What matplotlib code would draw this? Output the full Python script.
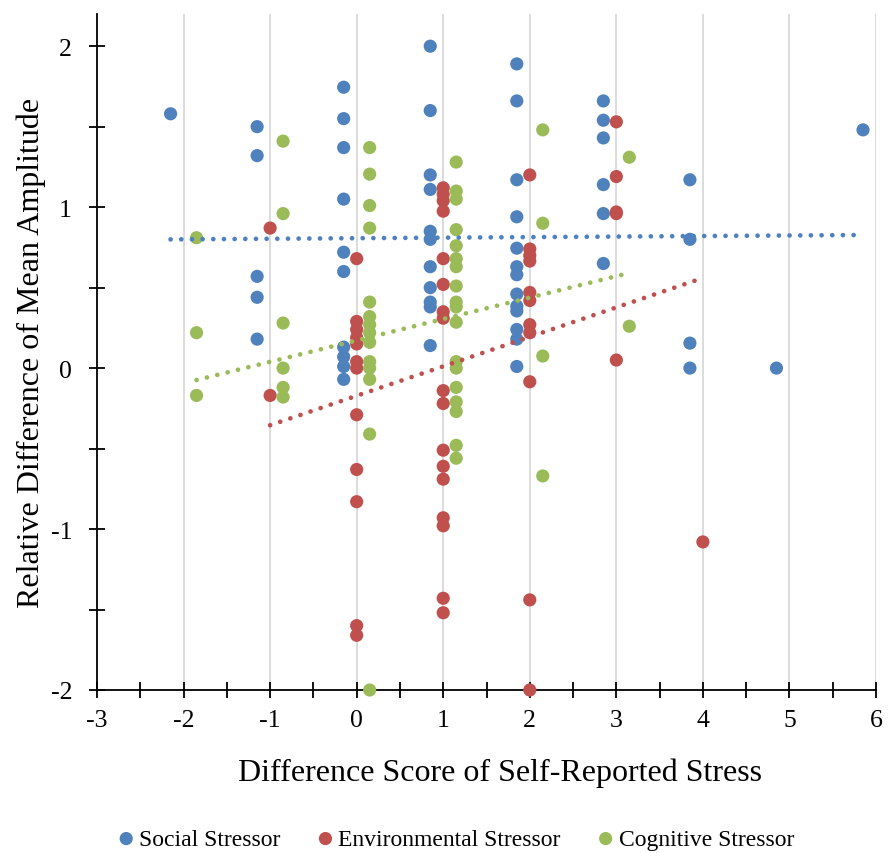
import numpy as np
import matplotlib
matplotlib.use("Agg")
import matplotlib.pyplot as plt

# difference score of self-reported stress -> relative difference values
social = {
    -2: [1.58],
    -1: [1.50, 1.32, 0.57, 0.44, 0.18],
    0: [1.745, 1.55, 1.37, 1.05, 0.72, 0.60, 0.13, 0.07, 0.01, -0.07],
    1: [2.0, 1.60, 1.20, 1.11, 0.85, 0.80, 0.63, 0.50, 0.41, 0.38, 0.14],
    2: [1.89, 1.66, 1.17, 0.94, 0.745, 0.63, 0.58, 0.46, 0.385, 0.355, 0.24, 0.18, 0.01],
    3: [1.66, 1.54, 1.43, 1.14, 0.96, 0.65],
    4: [1.17, 0.80, 0.155, 0.0],
    5: [0.0],
    6: [1.48],
}
environmental = {
    -1: [0.87, -0.17],
    0: [0.68, 0.29, 0.24, 0.19, 0.15, 0.04, 0.0, -0.29, -0.63, -0.83, -1.60, -1.66],
    1: [1.12, 1.08, 1.04, 0.975, 0.68, 0.52, 0.35, 0.31, -0.14, -0.22, -0.51, -0.61,
        -0.69, -0.93, -0.98, -1.43, -1.52],
    2: [1.20, 0.74, 0.70, 0.665, 0.47, 0.42, 0.27, 0.22, -0.085, -1.44, -2.0],
    3: [1.53, 1.19, 0.97, 0.96, 0.05],
    4: [-1.08],
}
cognitive = {
    -2: [0.81, 0.22, -0.17],
    -1: [1.41, 0.96, 0.28, 0.0, -0.12, -0.18],
    0: [1.37, 1.205, 1.01, 0.87, 0.41, 0.32, 0.27, 0.22, 0.16, 0.04, 0.0, -0.07, -0.41, -2.0],
    1: [1.28, 1.10, 1.05, 0.86, 0.76, 0.68, 0.63, 0.51, 0.41, 0.38, 0.285, 0.04, 0.0,
        -0.12, -0.21, -0.27, -0.48, -0.56],
    2: [1.48, 0.90, 0.075, -0.67],
    3: [1.31, 0.26],
}

# linear trendlines as shown on the chart (slope, intercept)
social_trend = (0.0034, 0.807)
environmental_trend = (0.183, -0.172)
cognitive_trend = (0.133, 0.172)

series = [
    ("Social Stressor", social, social_trend, -0.15, "#4F81BD"),
    ("Environmental Stressor", environmental, environmental_trend, 0.0, "#C0504D"),
    ("Cognitive Stressor", cognitive, cognitive_trend, 0.15, "#9BBB59"),
]

plt.rcParams["font.family"] = ["Liberation Serif", "DejaVu Serif"]
plt.rcParams["axes.unicode_minus"] = False

fig = plt.figure(figsize=(8.9, 8.54), dpi=100)
ax = fig.add_axes([97 / 890, 1 - 691 / 854, (876 - 97) / 890, (691 - 15) / 854])

# vertical gridlines
for s in range(-2, 7):
    ax.axvline(s, color="#d9d9d9", lw=1.3, zorder=0)

lines = []
for name, data, trend, off, col in series:
    xs, ys = [], []
    for k, vals in data.items():
        xs += [k + off] * len(vals)
        ys += vals
    xs = np.array(xs)
    ys = np.array(ys)
    ax.scatter(xs, ys, s=90, color=col, edgecolors="none", label=name,
               zorder=3, clip_on=False)
    lines.append((xs, trend, col))

for xs, (m, b), col in lines:
    tx = np.array([xs.min(), xs.max()])
    ax.plot(tx, m * tx + b, color=col, lw=3.4, linestyle=(0, (0.01, 2.25)),
            dash_capstyle="round", zorder=4)

ax.set_xlim(-3, 6)
ax.set_ylim(-2, 2.2)
ax.set_xticks(range(-3, 7))
ax.set_xticks(np.arange(-2.5, 6, 1.0), minor=True)
ax.set_yticks([-2, -1, 0, 1, 2])
ax.set_yticks([-1.5, -0.5, 0.5, 1.5], minor=True)
ax.tick_params(which="both", direction="inout", length=12, width=1.3, color="black")
ax.tick_params(axis="x", labelsize=18.5, pad=8)
ax.tick_params(axis="y", labelsize=18.5, pad=12)

for sp in ["top", "right"]:
    ax.spines[sp].set_visible(False)
for sp in ["left", "bottom"]:
    ax.spines[sp].set_linewidth(1.3)
    ax.spines[sp].set_zorder(2)

ax.set_xlabel("Difference Score of Self-Reported Stress", fontsize=23, labelpad=19)
ax.xaxis.label.set_x(0.517)
ax.set_ylabel("Relative Difference of Mean Amplitude", fontsize=23, labelpad=3)

fig.legend(loc="center", bbox_to_anchor=(0.513, 1 - 840 / 854), ncol=3, frameon=False,
           fontsize=17, handlelength=0.6, handletextpad=0.25, columnspacing=1.6,
           markerscale=1.0)

fig.savefig("out.png", dpi=100)
